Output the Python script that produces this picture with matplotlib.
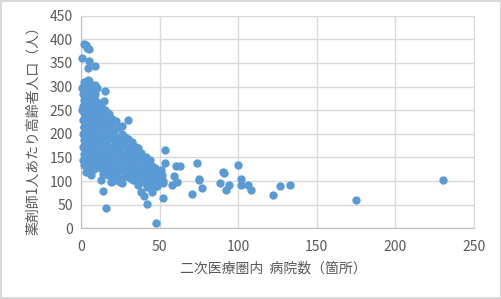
import matplotlib
matplotlib.use('Agg')
import matplotlib.pyplot as plt

plt.rcParams['font.family'] = ['Noto Sans CJK JP', 'DejaVu Sans']

# 二次医療圏ごとの病院数と薬剤師1人あたり高齢者人口
# 外れ値・まばらな点
hosp_sparse = [230.6, 175, 133, 126.5, 122, 108, 106, 102, 102, 99.5, 94, 92, 91, 90, 88.5,
               76.6, 75, 74.7, 73.7, 70.7, 63, 61, 60, 59, 57.7, 53, 53, 52, 52, 47.6,
               41.6, 39.7, 38, 16, 13.6, 6.4, 29.5, 25.6, 17.6, 19.7, 15, 14.7, 8.9, 4.5,
               4.9, 4.9, 3.6, 1.5, 2.8, 0.6, 0.2, 0.2, 1.5, 4, 9.3, 35, 32.5, 51.6, 47.8,
               45, 42.5, 27.8, 24.8, 18.7, 12.7, 8.7, 2, 3.2]
pop_sparse = [102, 60.5, 91, 89, 71, 82, 92, 105, 92, 134.5, 91, 82, 117.6, 120, 95,
              86, 103, 105, 139, 72.5, 131.7, 99, 131.7, 110, 91, 165.5, 139, 95, 65, 12,
              51, 67.6, 78, 43.7, 79.6, 113, 230, 215.5, 242, 231, 291, 269, 343.7, 339,
              353, 379, 382, 389, 388, 360, 296, 250, 215, 314, 298.6, 173, 181.7, 113, 117,
              78, 143.7, 152, 99, 99, 103, 145, 134.5, 120]

# 病院数の少ない圏域（密集部）
hosp_dense = [1, 2, 3, 5, 6, 8, 9, 10, 1, 3, 5, 7, 9, 2, 4, 6, 8, 10, 1, 3, 5, 7, 9,
              2, 4, 6, 8, 10, 1, 3, 5, 7, 9, 2, 4, 6, 8, 10, 1, 3, 5, 7, 9, 2, 4, 6, 8, 10,
              1, 3, 5, 7, 9, 2, 4, 6, 8, 10, 1, 3, 5, 7, 9, 4, 6, 8,
              11, 13, 15, 12, 14, 17, 19, 11, 13, 16, 18, 20, 12, 14, 16, 19, 21,
              11, 13, 15, 17, 20, 12, 14, 16, 18, 21, 11, 13, 15, 17, 19,
              12, 14, 16, 18, 20, 11, 13, 15, 17, 19, 14, 17, 19, 11,
              22, 24, 26, 23, 25, 28, 30, 22, 24, 27, 29, 31, 33,
              21, 23, 26, 28, 30, 32, 34, 22, 24, 26, 29, 31, 33, 35,
              21, 23, 25, 27, 30, 32, 34, 22, 25, 28, 31, 33, 36, 20, 26,
              36, 38, 37, 39, 41, 43, 45, 36, 38, 40, 42, 44, 46, 48,
              37, 39, 41, 43, 45, 47, 49, 50, 51, 49, 44, 38, 40, 46, 48, 50, 52,
              40, 44, 34, 35, 47, 42, 36]
pop_dense = [300, 310, 305, 312, 302, 296, 303, 296, 285, 290, 288, 292, 284,
             272, 276, 270, 278, 268, 258, 262, 255, 260, 252,
             245, 240, 246, 238, 244, 230, 226, 232, 224, 230, 215, 212, 218, 210, 214,
             200, 198, 204, 196, 202, 186, 184, 190, 182, 188,
             172, 170, 176, 168, 174, 158, 156, 162, 154, 160, 145, 148, 142, 146, 140,
             128, 132, 126,
             262, 255, 250, 240, 236, 244, 232, 225, 220, 226, 218, 222, 208, 204, 210, 200, 206,
             192, 188, 194, 186, 190, 176, 172, 178, 170, 174, 160, 156, 162, 154, 160,
             144, 140, 146, 138, 142, 130, 126, 132, 124, 130, 115, 112, 118, 140,
             228, 214, 200, 192, 186, 194, 188, 178, 170, 176, 168, 172, 164,
             160, 154, 158, 150, 156, 148, 152, 140, 136, 142, 134, 138, 130, 136,
             124, 120, 126, 118, 122, 116, 124, 108, 104, 110, 106, 102, 110, 100, 96,
             170, 160, 148, 142, 150, 138, 132, 128, 122, 130, 118, 124, 120, 114,
             112, 106, 112, 102, 108, 100, 106, 118, 124, 96, 94, 100, 98, 88, 90, 104, 100,
             140, 144, 160, 145, 128, 88, 92]

x_ticks = [0, 50, 100, 150, 200, 250]
y_ticks = [0, 50, 100, 150, 200, 250, 300, 350, 400, 450]

txt = '#595959'
grid = '#d9d9d9'

fig = plt.figure(figsize=(5.02, 2.99), dpi=100, edgecolor=grid, linewidth=1.5)
ax = fig.add_axes([0.162, 0.236, 0.782, 0.712])

ax.scatter(hosp_sparse + hosp_dense, pop_sparse + pop_dense, s=36, color='#5b9bd5',
           linewidths=0, zorder=3, clip_on=False)

ax.set_xlim(0, 250)
ax.set_ylim(0, 450)
ax.set_xticks(x_ticks)
ax.set_yticks(y_ticks)
ax.grid(True, color=grid, linewidth=1)
ax.set_axisbelow(True)
ax.tick_params(length=0, labelsize=10, labelcolor=txt)
ax.tick_params(axis='x', pad=8)
ax.tick_params(axis='y', pad=6)
for side in ['top', 'right']:
    ax.spines[side].set_color(grid)
for side in ['left', 'bottom']:
    ax.spines[side].set_color('#bfbfbf')

ax.set_xlabel('二次医療圏内  病院数（箇所）', fontsize=10, color=txt)
ax.set_ylabel('薬剤師1人あたり高齢者人口（人）', fontsize=10, color=txt)
ax.xaxis.set_label_coords(0.49, -0.155)
ax.yaxis.set_label_coords(-0.105, 0.475)

fig.savefig('out.png', dpi=100, edgecolor=fig.get_edgecolor())
